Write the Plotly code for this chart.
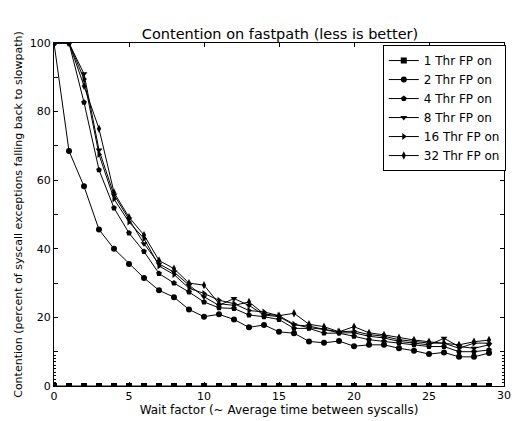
import plotly.graph_objects as go

x_vals = list(range(30))

thr1 = [0] * 30
thr2 = [100, 68.5, 58.2, 45.6, 40, 35.6, 31.5, 27.9, 25.9, 22.3, 20.2, 20.9, 19.4, 17.1, 17.8,
        15.8, 15.4, 13.0, 12.6, 13.1, 11.6, 12.0, 12.0, 11.0, 10.3, 9.3, 9.8, 8.5, 8.5, 9.6]
thr4 = [100, 100, 82.7, 63.0, 51.9, 44.6, 39.2, 32.8, 30.0, 27.4, 24.5, 22.8, 22.6, 20.7, 20.2,
        19.4, 16.8, 16.8, 15.4, 15.4, 14.5, 13.5, 13.0, 12.5, 12.0, 11.5, 11.5, 10.0, 10.0, 10.5]
thr8 = [100, 100, 91.0, 68.8, 55.7, 48.7, 41.5, 35.6, 33.2, 29.4, 26.0, 23.5, 25.5, 23.5, 20.7,
        20.2, 17.8, 17.5, 16.5, 15.5, 15.5, 14.5, 14.0, 13.0, 12.5, 12.0, 13.9, 11.5, 11.0, 12.0]
thr16 = [100, 100, 89.5, 67.5, 54.5, 47.8, 43.0, 35.0, 32.5, 28.5, 27.0, 25.0, 24.0, 22.0, 21.6,
         20.5, 18.0, 17.0, 16.5, 15.8, 16.0, 15.0, 14.5, 13.5, 13.0, 12.5, 12.5, 11.0, 12.5, 12.5]
thr32 = [100, 100, 87.5, 75.0, 56.4, 49.2, 44.0, 36.6, 34.2, 30.0, 29.4, 24.0, 23.5, 24.5, 21.0,
         20.5, 21.2, 18.0, 17.3, 15.8, 17.3, 15.5, 14.9, 14.1, 13.4, 12.9, 12.5, 12.0, 12.9, 13.4]

names = ["1 Thr FP on", "2 Thr FP on", "4 Thr FP on", "8 Thr FP on", "16 Thr FP on", "32 Thr FP on"]
series = [thr1, thr2, thr4, thr8, thr16, thr32]
symbols = ["square", "circle", "pentagon", "triangle-down", "triangle-right", "diamond-tall"]

x_ticks = [0, 5, 10, 15, 20, 25, 30]
y_ticks = [0, 10, 20, 30, 40, 50, 60, 70, 80, 90, 100]
y_ticktext = ["0", "", "20", "", "40", "", "60", "", "80", "", "100"]
y_minor = [1, 2, 3, 4, 5, 6, 7, 8, 9]

fig = go.Figure()
for name, ys, sym in zip(names, series, symbols):
    fig.add_trace(go.Scatter(
        x=x_vals, y=ys, mode="lines+markers", name=name,
        line=dict(color="black", width=1),
        marker=dict(symbol=sym, size=6, color="black", line=dict(width=0)),
    ))

fig.update_layout(
    width=512, height=421,
    margin=dict(l=54, r=6, t=43, b=33),
    paper_bgcolor="white", plot_bgcolor="white",
    font=dict(family="DejaVu Sans", size=11, color="black"),
    title=dict(text="Contention on fastpath (less is better)", x=280 / 512, xanchor="center",
               y=1 - 34 / 421, yanchor="middle", font=dict(size=14.5)),
    showlegend=True,
    legend=dict(x=1.004, y=0.994, xanchor="right", yanchor="top",
                bgcolor="white", bordercolor="black", borderwidth=1,
                font=dict(size=12), tracegroupgap=0, itemwidth=30),
)
fig.update_xaxes(
    range=[0, 30], tickvals=x_ticks[:-1], ticks="inside", ticklen=4, tickcolor="black",
    showline=True, linecolor="black", linewidth=1, mirror="ticks", showgrid=False,
    zeroline=False,
    title=dict(text="Wait factor (~ Average time between syscalls)", standoff=3, font=dict(size=12)),
)
fig.add_annotation(x=x_ticks[-1], y=0, xref="x", yref="paper", text=str(x_ticks[-1]),
                   showarrow=False, xanchor="center", yanchor="top", yshift=-1,
                   font=dict(size=11))
fig.update_yaxes(
    range=[0, 100], tickvals=y_ticks, ticktext=y_ticktext, ticks="inside", ticklen=4,
    tickcolor="black", showline=True, linecolor="black", linewidth=1, mirror="ticks",
    showgrid=False, zeroline=False,
    minor=dict(tickvals=y_minor, ticks="inside", ticklen=2, tickcolor="black"),
    title=dict(text="Contention (percent of syscall exceptions falling back to slowpath)",
               standoff=4, font=dict(size=11)),
)

fig.write_html("out.html", config={"displayModeBar": False},
               post_script="document.body.style.margin='0';")
